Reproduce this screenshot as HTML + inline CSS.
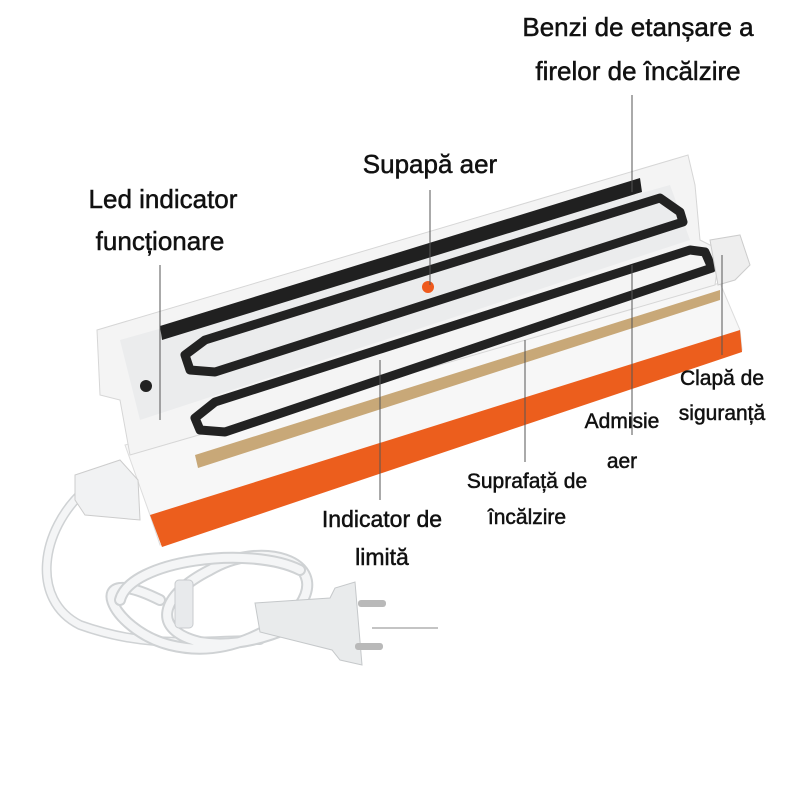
<!DOCTYPE html>
<html><head><meta charset="utf-8"><style>
html,body{margin:0;padding:0;background:#fff;}
svg{display:block}
text{font-family:"Liberation Sans",sans-serif;fill:#111;text-anchor:middle;stroke:#111;stroke-width:0.5}
</style></head><body>
<svg width="800" height="800" viewBox="0 0 800 800">
<!-- cord -->
<g fill="none" stroke-linecap="round">
<path d="M85 490 C40 530 30 600 80 625 C150 650 200 640 260 640" stroke="#cfd2d4" stroke-width="10"/>
<path d="M85 490 C40 530 30 600 80 625 C150 650 200 640 260 640" stroke="#f4f5f6" stroke-width="7"/>
<path d="M160 600 C80 560 110 630 170 645 C230 660 280 625 300 605 C330 560 260 540 210 570 C160 595 150 630 200 642 C250 650 300 625 320 610" stroke="#cfd2d4" stroke-width="12"/>
<path d="M160 600 C80 560 110 630 170 645 C230 660 280 625 300 605 C330 560 260 540 210 570 C160 595 150 630 200 642 C250 650 300 625 320 610" stroke="#f4f5f6" stroke-width="8"/>
<path d="M120 600 C130 560 250 545 300 570" stroke="#cfd2d4" stroke-width="12"/>
<path d="M120 600 C130 560 250 545 300 570" stroke="#f4f5f6" stroke-width="8"/>
</g>
<rect x="175" y="580" width="18" height="48" rx="4" fill="#e8eaec" stroke="#c8cbce"/>
<!-- plug -->
<path d="M255 603 L330 598 L335 588 L355 582 L362 665 L340 660 L332 650 L260 632 Z" fill="#e9ebec" stroke="#c5c8ca"/>
<rect x="358" y="600" width="28" height="7" rx="3" fill="#b9b9b9"/>
<rect x="355" y="643" width="28" height="7" rx="3" fill="#b9b9b9"/>
<line x1="372" y1="628" x2="438" y2="628" stroke="#888" stroke-width="1"/>
<!-- device base -->
<path d="M125 445 L720 283 L740 330 L742 350 L160 545 L150 515 Z" fill="#f7f7f7" stroke="#ddd"/>
<path d="M150 515 L740 330 L742 352 L162 547 Z" fill="#ec5e1d"/>
<!-- lid -->
<path d="M97 330 L688 155 L695 185 L700 240 L720 250 L715 285 L130 455 L120 400 L100 395 Z" fill="#f4f4f4" stroke="#d6d6d6"/>
<path d="M120 340 L670 185 L690 240 L140 420 Z" fill="#ebeced"/>
<!-- black bar -->
<path d="M160 326 L640 178 L642 192 L162 340 Z" fill="#202020"/>
<!-- gasket 1 -->
<path d="M205 340 L660 198 L680 212 L683 222 L215 372 L190 370 L185 355 Z" fill="none" stroke="#222" stroke-width="9" stroke-linejoin="round"/>
<!-- gasket 2 -->
<path d="M215 402 L690 250 L705 252 L712 268 L225 432 L200 430 L195 418 Z" fill="none" stroke="#222" stroke-width="9" stroke-linejoin="round"/>
<circle cx="428" cy="287" r="6" fill="#ef5a1d"/>
<!-- heating strip -->
<path d="M195 455 L720 290 L720 300 L198 468 Z" fill="#c8a878"/>
<rect x="140" y="380" width="12" height="12" rx="6" fill="#222"/>
<!-- left clip -->
<path d="M75 475 L120 460 L138 480 L140 520 L85 515 L75 500 Z" fill="#f1f2f3" stroke="#ccc"/>
<!-- right clip -->
<path d="M710 240 L740 235 L750 265 L735 280 L718 285 Z" fill="#eee" stroke="#ccc"/>
<!-- leader lines -->
<g stroke="#555" stroke-width="1">
<line x1="632" y1="95" x2="632" y2="192"/>
<line x1="430" y1="190" x2="430" y2="285"/>
<line x1="160" y1="265" x2="160" y2="420"/>
<line x1="722" y1="255" x2="722" y2="355"/>
<line x1="632" y1="265" x2="632" y2="435"/>
<line x1="525" y1="340" x2="525" y2="462"/>
<line x1="380" y1="360" x2="380" y2="500"/>
</g>
<!-- labels -->
<text x="638" y="36" font-size="26">Benzi de etanșare a</text>
<text x="638" y="80" font-size="26">firelor de încălzire</text>
<text x="430" y="173" font-size="26">Supapă aer</text>
<text x="163" y="208" font-size="26">Led indicator</text>
<text x="160" y="250" font-size="26">funcționare</text>
<text x="722" y="385" font-size="21">Clapă de</text>
<text x="722" y="420" font-size="21">siguranță</text>
<text x="622" y="428" font-size="21">Admisie</text>
<text x="622" y="468" font-size="21">aer</text>
<text x="527" y="488" font-size="21">Suprafață de</text>
<text x="527" y="524" font-size="21">încălzire</text>
<text x="382" y="527" font-size="23">Indicator de</text>
<text x="382" y="565" font-size="23">limită</text>
</svg>
</body></html>
